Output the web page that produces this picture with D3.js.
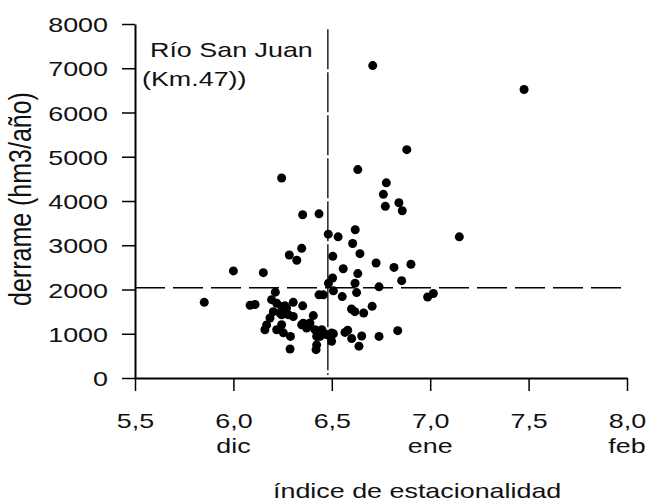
<!DOCTYPE html>
<html>
<head>
<meta charset="utf-8">
<script src="https://cdn.jsdelivr.net/npm/d3@7"></script>
<style>
body { margin: 0; background: #fff; }
text { font-family: "Liberation Sans", Arial, sans-serif; fill: #111; }
</style>
</head>
<body>
<svg id="canvas"></svg>
<script>
let width = 655,
height = 501

// índice de estacionalidad (x) y derrame en hm3/año (y)
let indice = [6.708, 7.477, 6.881, 6.632, 6.777, 6.762, 6.772, 6.841, 6.858, 7.148,
    6.435, 6.352, 6.482, 6.532, 6.619, 6.606, 6.245, 6.347, 6.284, 6.322,
    6.505, 6.558, 6.000, 6.152, 6.643, 6.725, 6.816, 6.902, 6.855, 6.632,
    6.618, 6.740, 6.483, 6.504, 6.457, 6.508, 6.553, 6.626, 6.987, 7.016,
    6.600, 6.617, 6.662, 6.705, 6.835, 6.740, 6.581, 6.601, 6.652, 6.638,
    6.499, 6.508, 6.460, 6.423, 6.423, 6.420, 6.406, 6.352, 6.567, 5.852,
    6.085, 6.110, 6.213, 6.194, 6.220, 6.262, 6.304, 6.237, 6.203, 6.186,
    6.270, 6.304, 6.169, 6.160, 6.220, 6.254, 6.290, 6.288, 6.355, 6.381,
    6.415, 6.449, 6.474, 6.499, 6.245, 6.279, 6.245, 6.347, 6.372, 6.389,
    6.440, 6.458, 6.435, 6.245, 6.270]
let derrame = [7060, 6520, 5160, 4710, 4410, 4150, 3880, 3960, 3780, 3190,
    3710, 3690, 3250, 3190, 3350, 3040, 4520, 2930, 2780, 2660,
    2750, 2470, 2420, 2380, 2810, 2600, 2500, 2570, 2200, 2360,
    2140, 2060, 2140, 2260, 1880, 1970, 1840, 1930, 1830, 1910,
    1560, 1500, 1470, 1620, 1070, 940, 1080, 890, 950, 720,
    830, 1000, 1000, 940, 750, 640, 1410, 1630, 1030, 1710,
    1645, 1660, 1940, 1770, 1690, 1630, 1710, 1470, 1500, 1355,
    1465, 1390, 1200, 1090, 1090, 1020, 940, 655, 1240, 1165,
    1090, 1090, 980, 1016, 1430, 1430, 1203, 1203, 1130, 1242,
    940, 1020, 1880, 1617, 1580]

let xTicks = [5.5, 6.0, 6.5, 7.0, 7.5, 8.0]
let yTicks = [0, 1000, 2000, 3000, 4000, 5000, 6000, 7000, 8000]
let mesTicks = [6.0, 7.0, 8.0]
let meses = ['dic', 'ene', 'feb']
let mediaIndice = 6.48
let mediaDerrame = 2040

let stretch = 'scale(1.28,1)'

let canvas = d3.select('#canvas')
.attr('width', width)
.attr('height', height)

let x = d3.scaleLinear().domain([5.5, 8.0]).range([135, 627])
let y = d3.scaleLinear().domain([0, 8000]).range([378, 24])

// eje y
let yAxis = canvas.append('g')
.attr('transform', 'translate(135,0)')
.call(d3.axisLeft(y).tickValues(yTicks).tickSize(13).tickSizeOuter(0).tickFormat(d3.format('d')))
yAxis.select('.domain').attr('stroke', '#000').attr('stroke-width', 2)
yAxis.selectAll('.tick line').attr('stroke', '#000').attr('stroke-width', 1.5)
yAxis.selectAll('.tick text')
.attr('x', 0).attr('dy', '0.36em')
.attr('transform', `translate(-27,0) ${stretch}`)
.style('font-size', '21px')

// eje x
let xAxis = canvas.append('g')
.attr('transform', 'translate(0,378)')
.call(d3.axisBottom(x).tickValues(xTicks).tickSize(13).tickSizeOuter(0).tickFormat((d) => d3.format('.1f')(d).replace('.', ',')))
xAxis.select('.domain').attr('stroke', '#000').attr('stroke-width', 2)
xAxis.selectAll('.tick line').attr('stroke', '#000').attr('stroke-width', 1.5)
xAxis.selectAll('.tick text')
.attr('y', 0).attr('dy', 0)
.attr('transform', `translate(0,50) ${stretch}`)
.style('font-size', '21px')

canvas.append('g')
.selectAll('text')
.data(mesTicks)
.join('text')
.attr('transform', (d) => `translate(${x(d)},453) ${stretch}`)
.attr('text-anchor', 'middle')
.style('font-size', '21px')
.text((d, i) => meses[i])

// lineas de referencia
canvas.append('line')
.attr('x1', x(5.5)).attr('x2', x(8.0))
.attr('y1', y(mediaDerrame)).attr('y2', y(mediaDerrame))
.attr('stroke', '#000').attr('stroke-width', 1.3)
.attr('stroke-dasharray', '30,8')

canvas.append('line')
.attr('x1', x(mediaIndice)).attr('x2', x(mediaIndice))
.attr('y1', y(7880)).attr('y2', y(70))
.attr('stroke', '#000').attr('stroke-width', 1.3)
.attr('stroke-dasharray', '40,3')

// puntos
canvas.append('g')
.selectAll('circle')
.data(d3.range(indice.length))
.join('circle')
.attr('cx', (i) => x(indice[i]))
.attr('cy', (i) => y(derrame[i]))
.attr('r', 4.5)
.attr('fill', '#000')

// textos
canvas.append('text')
.attr('transform', `translate(150,57) ${stretch}`)
.style('font-size', '21px')
.text('Río San Juan')

canvas.append('text')
.attr('transform', `translate(142,86) ${stretch}`)
.style('font-size', '21px')
.text('(Km.47))')

canvas.append('text')
.attr('transform', `translate(31,199) ${stretch} rotate(-90)`)
.attr('text-anchor', 'middle')
.style('font-size', '25px')
.text('derrame (hm3/año)')

canvas.append('text')
.attr('transform', `translate(273,498) ${stretch}`)
.style('font-size', '21px')
.text('índice de estacionalidad')
</script>
</body>
</html>
